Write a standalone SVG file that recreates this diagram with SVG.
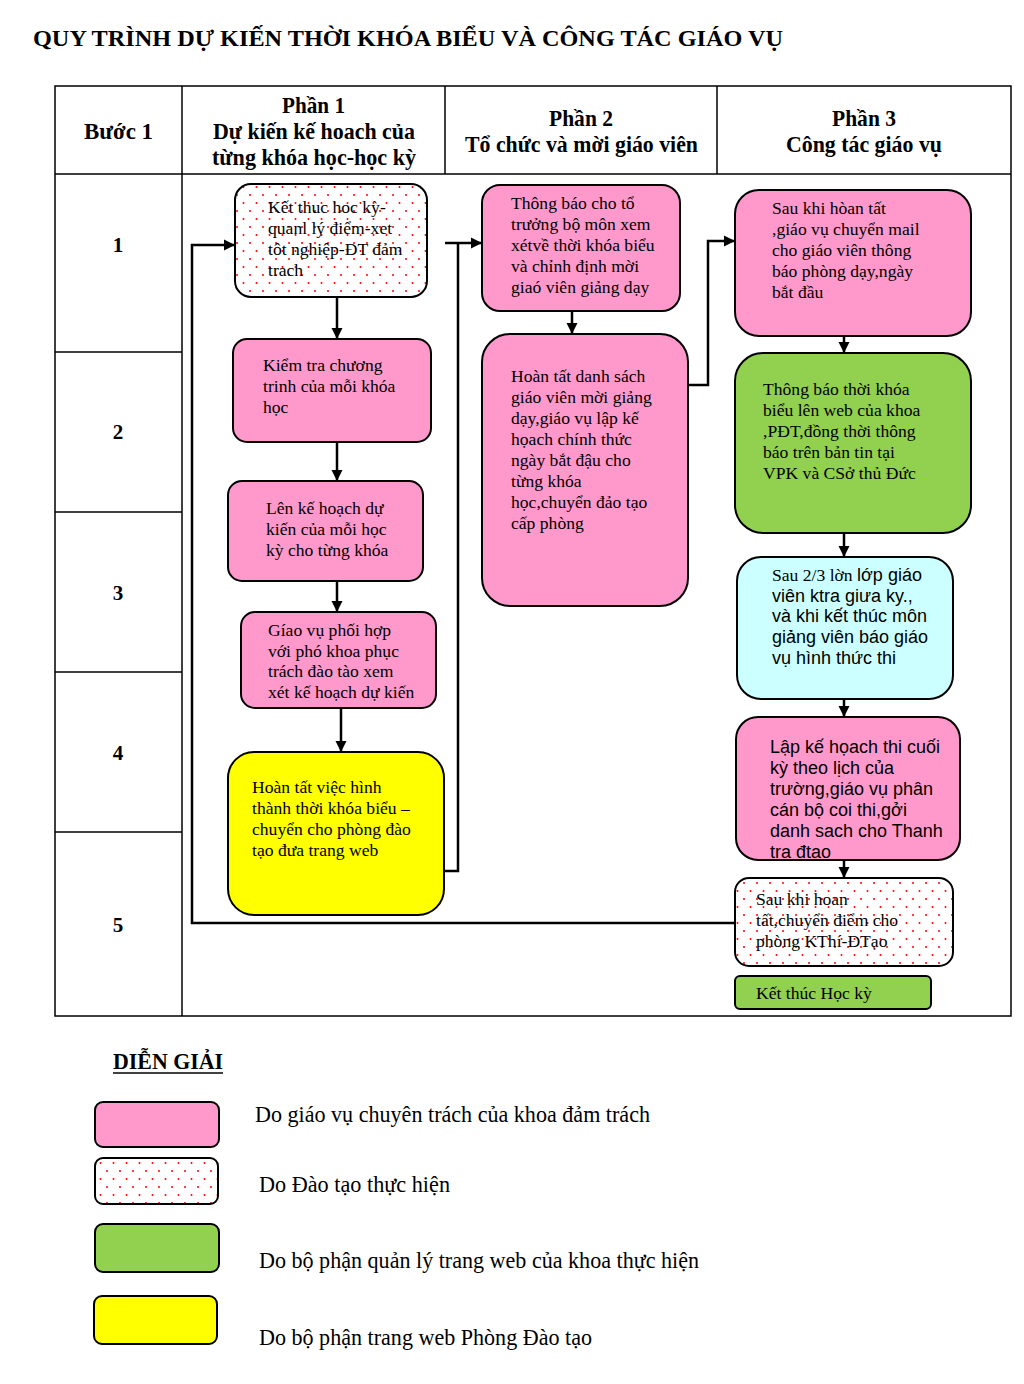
<svg xmlns="http://www.w3.org/2000/svg" width="1024" height="1384" viewBox="0 0 1024 1384">
<defs>
<style>
.t{font-family:"Liberation Serif","Times New Roman",serif;font-size:17.6px;fill:#000}
.a{font-family:"Liberation Sans",Arial,sans-serif;font-size:18px;fill:#000}
.h{font-family:"Liberation Serif","Times New Roman",serif;font-size:23px;font-weight:bold;fill:#000}
.n{font-family:"Liberation Serif","Times New Roman",serif;font-size:21px;font-weight:bold;fill:#000}
.lg{font-family:"Liberation Serif","Times New Roman",serif;font-size:23px;fill:#000}
.box{stroke:#000;stroke-width:2}
.pink{fill:#ff99cc}
.green{fill:#92d050}
.yellow{fill:#ffff00}
.cyan{fill:#ccffff}
.dot{fill:url(#dots)}
.grid{stroke:#000;stroke-width:1.5;fill:none}
.conn{stroke:#000;stroke-width:2.5;fill:none}
</style>
<pattern id="dots" width="13" height="16" patternUnits="userSpaceOnUse">
<rect width="13" height="16" fill="#fff"/>
<circle cx="3" cy="3" r="1" fill="#ff0000"/>
<circle cx="9.5" cy="11" r="1" fill="#ff0000"/>
</pattern>
<marker id="arr" markerUnits="userSpaceOnUse" markerWidth="12" markerHeight="12" refX="11" refY="6" orient="auto">
<path d="M0,0.5 L11,6 L0,11.5 z" fill="#000"/>
</marker>
</defs>
<rect width="1024" height="1384" fill="#fff"/>

<text class="h" x="33" y="46" font-size="28" textLength="750" lengthAdjust="spacingAndGlyphs">QUY TRÌNH DỰ KIẾN THỜI KHÓA BIỂU VÀ CÔNG TÁC GIÁO VỤ</text>

<g id="table">
<rect class="grid" x="55" y="86" width="956" height="930"/>
<line class="grid" x1="55" y1="174" x2="1011" y2="174"/>
<line class="grid" x1="182" y1="86" x2="182" y2="1016"/>
<line class="grid" x1="445" y1="86" x2="445" y2="174"/>
<line class="grid" x1="717" y1="86" x2="717" y2="174"/>
<line class="grid" x1="55" y1="352" x2="182" y2="352"/>
<line class="grid" x1="55" y1="512" x2="182" y2="512"/>
<line class="grid" x1="55" y1="672" x2="182" y2="672"/>
<line class="grid" x1="55" y1="832" x2="182" y2="832"/>
<text class="h" x="84" y="139" textLength="69" lengthAdjust="spacingAndGlyphs">Bước 1</text>
<text class="h" x="282" y="113" textLength="63" lengthAdjust="spacingAndGlyphs">Phần 1</text>
<text class="h" x="213" y="139" textLength="202" lengthAdjust="spacingAndGlyphs">Dự kiến kế hoach của</text>
<text class="h" x="212" y="165" textLength="204" lengthAdjust="spacingAndGlyphs">từng khóa học-học kỳ</text>
<text class="h" x="549" y="126" textLength="64" lengthAdjust="spacingAndGlyphs">Phần 2</text>
<text class="h" x="465" y="152" textLength="233" lengthAdjust="spacingAndGlyphs">Tổ chức và mời giáo viên</text>
<text class="h" x="832" y="126" textLength="64" lengthAdjust="spacingAndGlyphs">Phần 3</text>
<text class="h" x="786" y="152" textLength="156" lengthAdjust="spacingAndGlyphs">Công tác giáo vụ</text>
<text class="n" x="118" y="252" text-anchor="middle">1</text>
<text class="n" x="118" y="439" text-anchor="middle">2</text>
<text class="n" x="118" y="600" text-anchor="middle">3</text>
<text class="n" x="118" y="760" text-anchor="middle">4</text>
<text class="n" x="118" y="932" text-anchor="middle">5</text>
</g>

<g id="connectors">
<path class="conn" d="M337,297 V339" marker-end="url(#arr)"/>
<path class="conn" d="M337,442 V481" marker-end="url(#arr)"/>
<path class="conn" d="M337,581 V612" marker-end="url(#arr)"/>
<path class="conn" d="M341,708 V752" marker-end="url(#arr)"/>
<path class="conn" d="M572,311 V334" marker-end="url(#arr)"/>
<path class="conn" d="M844,336 V353" marker-end="url(#arr)"/>
<path class="conn" d="M844,533 V557" marker-end="url(#arr)"/>
<path class="conn" d="M844,699 V717" marker-end="url(#arr)"/>
<path class="conn" d="M844,860 V878" marker-end="url(#arr)"/>
<path class="conn" d="M735,923 H192 V245 H235" marker-end="url(#arr)"/>
<path class="conn" d="M444,871 H458 V243"/>
<path class="conn" d="M445,243 H482" marker-end="url(#arr)"/>
<path class="conn" d="M688,385 H708 V241 H735" marker-end="url(#arr)"/>
</g>

<g id="nodeA">
<rect class="box dot" x="235" y="184" width="192" height="113" rx="16"/>
<text class="t" x="268" y="213">Kết thuc hoc kỳ-</text>
<text class="t" x="268" y="234">quanl lý điểm-xet</text>
<text class="t" x="268" y="255">tôt nghiệp-ĐT đảm</text>
<text class="t" x="268" y="276">trach</text>
</g>
<g id="nodeB">
<rect class="box pink" x="233" y="339" width="198" height="103" rx="14"/>
<text class="t" x="263" y="371">Kiểm tra chương</text>
<text class="t" x="263" y="392">trinh của mỗi khóa</text>
<text class="t" x="263" y="413">học</text>
</g>
<g id="nodeC">
<rect class="box pink" x="228" y="481" width="195" height="100" rx="14"/>
<text class="t" x="266" y="514">Lên kế hoạch dự</text>
<text class="t" x="266" y="535">kiến của mỗi học</text>
<text class="t" x="266" y="556">kỳ cho từng khóa</text>
</g>
<g id="nodeD">
<rect class="box pink" x="241" y="612" width="195" height="96" rx="14"/>
<text class="t" x="268" y="636">Gíao vụ phối hợp</text>
<text class="t" x="268" y="657">với phó khoa phục</text>
<text class="t" x="268" y="677">trách đào tào xem</text>
<text class="t" x="268" y="698">xét kế hoạch dự kiến</text>
</g>
<g id="nodeE">
<rect class="box yellow" x="228" y="752" width="216" height="163" rx="26"/>
<text class="t" x="252" y="793">Hoàn tất việc hình</text>
<text class="t" x="252" y="814">thành thời khóa biểu –</text>
<text class="t" x="252" y="835">chuyển cho phòng đào</text>
<text class="t" x="252" y="856">tạo đưa trang web</text>
</g>
<g id="nodeF">
<rect class="box pink" x="482" y="185" width="198" height="126" rx="18"/>
<text class="t" x="511" y="209">Thông báo cho tổ</text>
<text class="t" x="511" y="230">trưởng bộ môn xem</text>
<text class="t" x="511" y="251">xétvề thời khóa biểu</text>
<text class="t" x="511" y="272">và chỉnh định mời</text>
<text class="t" x="511" y="293">giaó viên giảng dạy</text>
</g>
<g id="nodeG">
<rect class="box pink" x="482" y="334" width="206" height="272" rx="28"/>
<text class="t" x="511" y="382">Hoàn tất danh sách</text>
<text class="t" x="511" y="403">giáo viên mời  giảng</text>
<text class="t" x="511" y="424">dạy,giáo vụ lập kế</text>
<text class="t" x="511" y="445">họach chính thức</text>
<text class="t" x="511" y="466">ngày bắt đậu cho</text>
<text class="t" x="511" y="487">từng khóa</text>
<text class="t" x="511" y="508">học,chuyển đảo tạo</text>
<text class="t" x="511" y="529">cấp phòng</text>
</g>
<g id="nodeH">
<rect class="box pink" x="735" y="190" width="236" height="146" rx="24"/>
<text class="t" x="772" y="214">Sau khi hòan tất</text>
<text class="t" x="772" y="235">,giáo vụ chuyển mail</text>
<text class="t" x="772" y="256">cho giáo viên thông</text>
<text class="t" x="772" y="277">báo phòng dạy,ngày</text>
<text class="t" x="772" y="298">bắt đầu</text>
</g>
<g id="nodeI">
<rect class="box green" x="735" y="353" width="236" height="180" rx="28"/>
<text class="t" x="763" y="395">Thông báo thời khóa</text>
<text class="t" x="763" y="416">biểu lên web của khoa</text>
<text class="t" x="763" y="437">,PĐT,đồng thời thông</text>
<text class="t" x="763" y="458">báo  trên bản tin tại</text>
<text class="t" x="763" y="479">VPK và CSở thủ Đức</text>
</g>
<g id="nodeJ">
<rect class="box cyan" x="737" y="557" width="216" height="142" rx="24"/>
<text class="a" x="772" y="581"><tspan style="font-family:'Liberation Serif','Times New Roman',serif;font-size:17.6px">Sau 2/3 lờn </tspan>lớp giáo</text>
<text class="a" x="772" y="602">viên ktra giưa ky.,</text>
<text class="a" x="772" y="622">và khi kết thúc môn</text>
<text class="a" x="772" y="643">giảng viên báo giáo</text>
<text class="a" x="772" y="664">vụ hình thức thi</text>
</g>
<g id="nodeK">
<rect class="box pink" x="736" y="717" width="224" height="143" rx="22"/>
<text class="a" x="770" y="753">Lập kế họach thi cuối</text>
<text class="a" x="770" y="774">kỳ theo lịch của</text>
<text class="a" x="770" y="795">trường,giáo vụ phân</text>
<text class="a" x="770" y="816">cán bộ coi thi,gởi</text>
<text class="a" x="770" y="837">danh sach cho Thanh</text>
<text class="a" x="770" y="858">tra đtao</text>
</g>
<g id="nodeL">
<rect class="box dot" x="735" y="878" width="218" height="88" rx="14"/>
<text class="t" x="756" y="905">Sau khi hoan</text>
<text class="t" x="756" y="926">tất,chuyển điểm cho</text>
<text class="t" x="756" y="947">phòng KThí-ĐTạo</text>
</g>
<g id="nodeM">
<rect class="box green" x="735" y="976" width="196" height="33" rx="5"/>
<text class="t" x="756" y="999">Kết thúc Học kỳ</text>
</g>

<g id="legend">
<text class="h" x="113" y="1069" textLength="110" lengthAdjust="spacingAndGlyphs">DIỄN GIẢI</text>
<line x1="113" y1="1073" x2="223" y2="1073" stroke="#000" stroke-width="1.5"/>
<rect class="box pink" x="95" y="1102" width="124" height="45" rx="8"/>
<text class="lg" x="255" y="1122" textLength="395" lengthAdjust="spacingAndGlyphs">Do giáo vụ chuyên trách của khoa đảm trách</text>
<rect class="box dot" x="95" y="1158" width="123" height="46" rx="8"/>
<text class="lg" x="259" y="1192" textLength="191" lengthAdjust="spacingAndGlyphs">Do Đào tạo thực hiện</text>
<rect class="box green" x="95" y="1224" width="124" height="48" rx="8"/>
<text class="lg" x="259" y="1268" textLength="440" lengthAdjust="spacingAndGlyphs">Do bộ phận quản lý trang web của khoa thực hiện</text>
<rect class="box yellow" x="94" y="1296" width="123" height="48" rx="8"/>
<text class="lg" x="259" y="1345" textLength="333" lengthAdjust="spacingAndGlyphs">Do bộ phận trang web Phòng Đào tạo</text>
</g>
</svg>
